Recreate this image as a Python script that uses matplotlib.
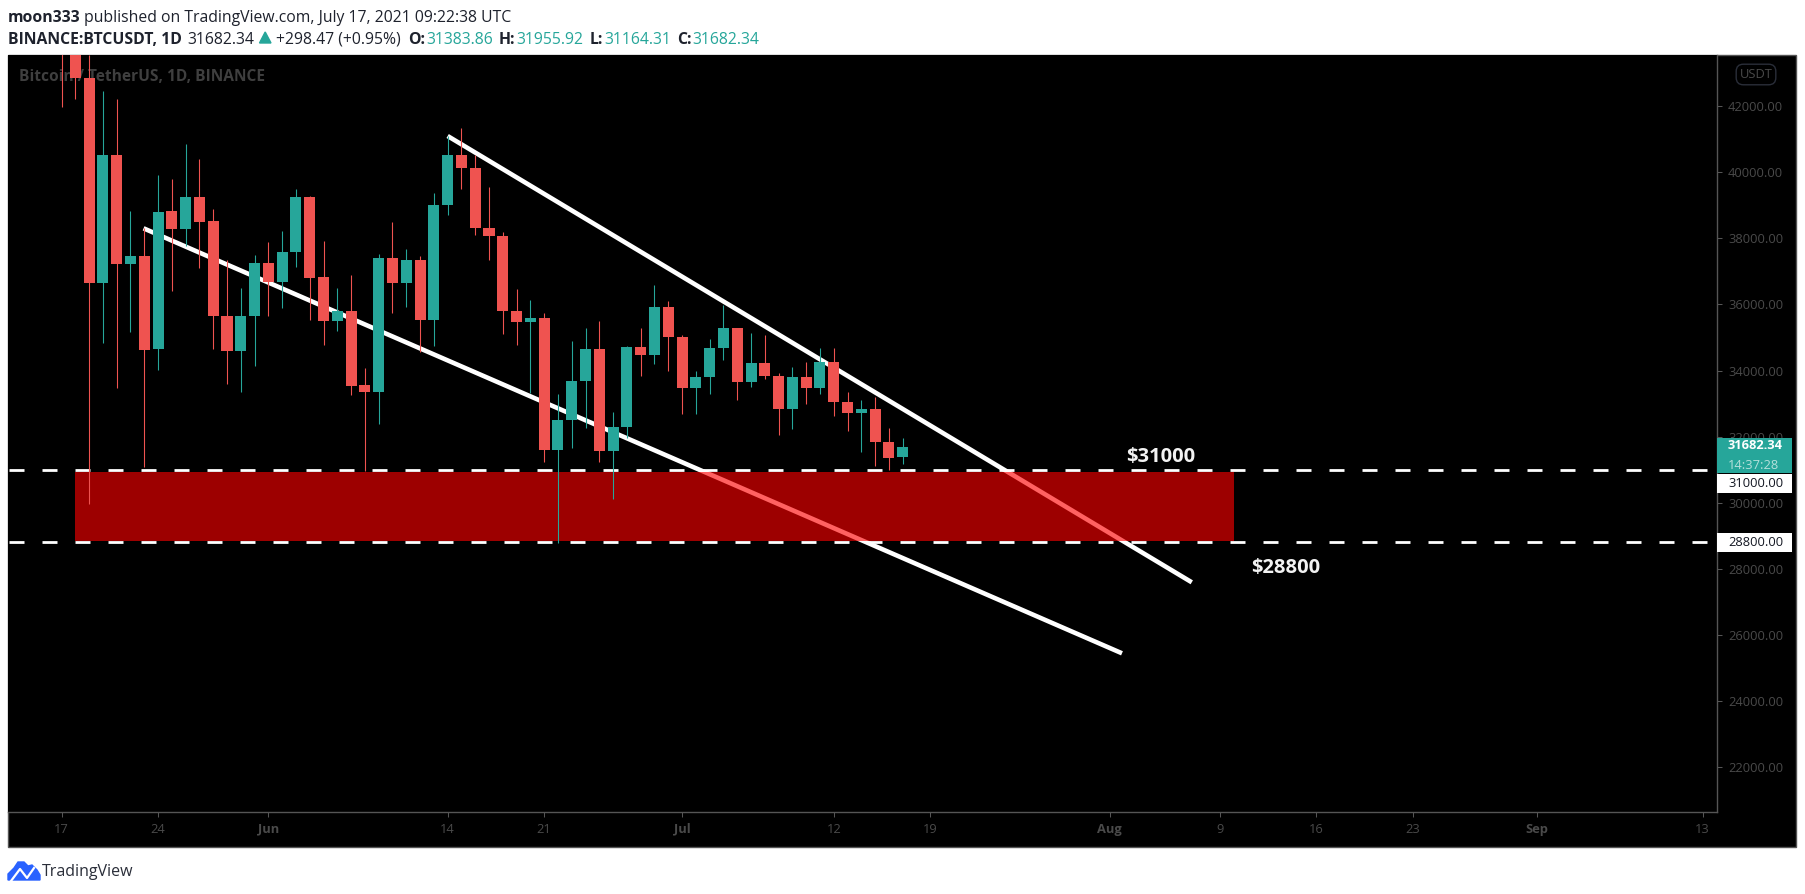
#!/usr/bin/env python3
"""
BTCUSDT daily candles (TradingView snapshot), falling wedge and support zone
"""

import matplotlib
matplotlib.use('Agg')
import matplotlib.pyplot as plt
import numpy as np
from matplotlib.patches import Rectangle, FancyBboxPatch, Polygon
from matplotlib.lines import Line2D

# day number counted from May 17
opens = [46400, 43600, 42849, 36656, 40518, 37222, 37464, 34660, 38824, 38280, 39248, 38522,
         35658, 34600, 35649, 37252, 36677, 37585, 39248, 36829, 35507, 35800, 33563, 33360,
         37403, 36656, 37343, 35537, 39006, 40518, 40125, 38310, 38068, 35800, 35468, 35589,
         31597, 32504, 33684, 34651, 31567, 32293, 34712, 34470, 35921, 35014, 33472, 33805,
         34681, 35286, 33653, 34228, 33835, 32837, 33805, 33472, 34258, 33049, 32716, 32837,
         31839, 31383.86]
highs = [46700, 45800, 43550, 42453, 42211, 38824, 38310, 39913, 39792, 40850, 40397, 38885,
         37343, 36496, 37494, 37887, 38220, 39490, 39278, 37917, 36496, 36889, 34077, 37524,
         38492, 37675, 37464, 39369, 41092, 41334, 40518, 39550, 38189, 36466, 36133, 35740,
         33290, 34893, 35286, 35498, 32746, 34742, 35286, 36587, 36103, 35075, 33986, 34954,
         35982, 35290, 35135, 35075, 33925, 34107, 34258, 34681, 34681, 33351, 33109, 33200,
         32262, 31955.92]
lows = [41980, 42211, 29974, 34842, 33481, 35174, 31092, 34016, 36405, 37766, 37101, 34651,
        33602, 33360, 34146, 35658, 35900, 37131, 35537, 34781, 35205, 33269, 30962, 32392,
        35749, 35930, 34570, 34751, 38703, 39490, 38099, 37343, 35105, 34772, 33321, 31234,
        28785, 31657, 32262, 31234, 30115, 31960, 33835, 34198, 33986, 32686, 32686, 33290,
        34319, 33109, 33502, 33744, 32051, 32232, 32988, 33290, 32625, 32172, 31537, 31113,
        30992, 31164.31]
closes = [43600, 42849, 36656, 40518, 37222, 37464, 34630, 38794, 38280, 39248, 38492, 35658,
          34600, 35649, 37252, 36677, 37585, 39248, 36798, 35507, 35800, 33541, 33360, 37403,
          36656, 37343, 35537, 39006, 40518, 40125, 38310, 38068, 35800, 35468, 35589, 31597,
          32504, 33684, 34651, 31567, 32293, 34712, 34470, 35921, 35014, 33472, 33805, 34681,
          35286, 33653, 34228, 33835, 32837, 33805, 33472, 34258, 33049, 32716, 32837, 31839,
          31355, 31682.34]

price_ticks = [42000, 40000, 38000, 36000, 34000, 32000, 30000, 28000, 26000, 24000, 22000]
date_ticks = [0, 7, 15, 28, 35, 45, 56, 63, 76, 84, 91, 98, 107, 119]
date_labels = ['17', '24', 'Jun', '14', '21', 'Jul', '12', '19', 'Aug', '9', '16', '23', 'Sep', '13']
month_labels = ['Jun', 'Jul', 'Aug', 'Sep']

upper_trend_x = [28.0, 81.96]
upper_trend_y = [41092, 27596]
lower_trend_x = [5.95, 76.9]
lower_trend_y = [38301, 25449]

level_prices = [31000, 28800]
level_names = ['$31000', '$28800']
level_name_x = [79.7, 88.8]
level_name_y = [31380, 28020]
zone_x = [0.98, 85.0]
zone_y = [28845, 30940]

UP = '#26a69a'
DOWN = '#ef5350'
W, H = 1805, 894
FONT = 'Open Sans'


def fx(px):
    return px / W


def fy(py):
    return 1 - py / H


def header(fig):
    dark = '#1e222d'
    fig.text(fx(8), fy(22), 'moon333', fontsize=11.3, fontweight='bold', color=dark, family=FONT)
    fig.text(fx(84), fy(22), 'published on TradingView.com, July 17, 2021 09:22:38 UTC',
             fontsize=11.3, color=dark, family=FONT)
    fig.text(fx(8), fy(44), 'BINANCE:BTCUSDT, 1D', fontsize=11.3, fontweight='bold', color=dark, family=FONT)
    fig.text(fx(187.5), fy(44), '31682.34', fontsize=11.3, color=dark, family=FONT)
    fig.add_artist(Polygon([[fx(259.5), fy(43)], [fx(271), fy(43)], [fx(265.2), fy(32)]],
                           closed=True, color=UP, transform=fig.transFigure))
    fig.text(fx(276), fy(44), '+298.47 (+0.95%)', fontsize=11.3, color=dark, family=FONT)
    items = [('O:', 408, '31383.86', 426.7), ('H:', 499, '31955.92', 516.7),
             ('L:', 590, '31164.31', 604), ('C:', 676.7, '31682.34', 692.7)]
    for name, x1, val, x2 in items:
        fig.text(fx(x1), fy(44), name, fontsize=11.3, fontweight='bold', color=dark, family=FONT)
        fig.text(fx(x2), fy(44), val, fontsize=11.3, color=UP, family=FONT)


def footer(fig):
    blue = '#2962ff'
    cloud = [[8, 880], [8, 874], [14, 868], [18, 862], [24, 862], [28, 866], [32, 865],
             [37, 870], [40, 875], [40, 880]]
    fig.add_artist(Polygon([[fx(a), fy(b)] for a, b in cloud], closed=True, color=blue,
                           transform=fig.transFigure))
    zig = [[11, 881], [20, 869], [27, 878], [34, 868]]
    fig.add_artist(Line2D([fx(a) for a, b in zig], [fy(b) for a, b in zig], color='white', lw=1.6,
                          transform=fig.transFigure))
    fig.text(fx(42), fy(876), 'TradingView', fontsize=11.5, color='#2a2e39', family=FONT)


def price_tag(ax, center, lines, bg, half=280):
    trans = ax.get_yaxis_transform()
    tag_w = 75 / 1708.5
    ax.add_patch(Rectangle((1.0, center - half), tag_w, 2 * half, facecolor=bg, edgecolor='none',
                           transform=trans, clip_on=False, zorder=6))
    for price, text, color, weight in lines:
        ax.text(1 + 11.5 / 1708.5, price, text, color=color, fontweight=weight, fontsize=9.3, family=FONT,
                va='center', ha='left', transform=trans, clip_on=False, zorder=7)


def draw_chart():
    plt.rcParams['lines.scale_dashes'] = False
    fig = plt.figure(figsize=(W / 100, H / 100), dpi=100, facecolor='white')
    fig.add_artist(Rectangle((fx(7.5), fy(847)), fx(1788.5), 792 / H, facecolor='black', edgecolor='#555555',
                             lw=1.0, transform=fig.transFigure, zorder=-1))

    ax = fig.add_axes([fx(8), fy(812), 1708.5 / W, 757 / H], facecolor='black')
    ax.set_xlim(-3.88, 120.01)
    ax.set_ylim(20650, 43542)

    days = np.arange(len(opens))
    o = np.array(opens)
    c = np.array(closes)
    colors = np.where(c >= o, UP, DOWN)

    ax.text(11 / 1708.5, 1 - 21.7 / 757, 'Bitcoin / TetherUS, 1D, BINANCE', color='#3f3f3f', fontsize=11.2,
            fontweight='bold', family=FONT, va='center', transform=ax.transAxes, zorder=1)

    ax.plot(upper_trend_x, upper_trend_y, color='white', lw=3.3, solid_capstyle='butt', zorder=2)
    ax.plot(lower_trend_x, lower_trend_y, color='white', lw=3.3, solid_capstyle='butt', zorder=2)

    for level in level_prices:
        ax.plot([-3.807, 120.01], [level, level], color='white', lw=2.0, dashes=(10.8, 12.96),
                dash_capstyle='butt', zorder=2.2)

    ax.add_patch(Rectangle((zone_x[0], zone_y[0]), zone_x[1] - zone_x[0], zone_y[1] - zone_y[0],
                           facecolor='#ff0000', alpha=0.62, edgecolor='none', zorder=2.5))

    ax.vlines(days, lows, highs, colors=colors, lw=0.78, zorder=3)
    ax.bar(days, np.abs(c - o), bottom=np.minimum(o, c), width=0.8, color=colors, zorder=3.1)

    for name, x, y in zip(level_names, level_name_x, level_name_y):
        ax.text(x, y, name, color='#f2f2f2', fontsize=14.5, fontweight='bold', family=FONT,
                ha='center', va='center', zorder=4)

    for side in ['top', 'left']:
        ax.spines[side].set_visible(False)
    for side in ['right', 'bottom']:
        ax.spines[side].set_color('#555555')
        ax.spines[side].set_linewidth(1.0)

    ax.yaxis.tick_right()
    ax.set_yticks(price_ticks)
    ax.set_yticklabels([f'{p:.2f}' for p in price_ticks], family=FONT)
    ax.set_xticks(date_ticks)
    ax.set_xticklabels(date_labels, family=FONT)
    ax.tick_params(axis='both', colors='#555555', labelcolor='#4a4a4a', length=3.6, width=0.75, labelsize=9.3)
    ax.tick_params(axis='y', pad=4.7)
    ax.tick_params(axis='x', pad=4.0)
    for lab in ax.get_xticklabels():
        if lab.get_text() in month_labels:
            lab.set_fontweight('bold')

    price_tag(ax, 31430, [(31730, '31682.34', 'white', 'bold'), (31130, '14:37:28', '#b5e0db', 'normal')],
              UP, half=530)
    price_tag(ax, 30584, [(30584, '31000.00', '#131722', 'normal')], 'white')
    price_tag(ax, 28800, [(28800, '28800.00', '#131722', 'normal')], 'white')

    fig.add_artist(FancyBboxPatch((fx(1738), fy(83)), fx(36), 17 / H, boxstyle='round,pad=0.001,rounding_size=0.004',
                                  facecolor='black', edgecolor='#2a2e39', lw=1, transform=fig.transFigure,
                                  mutation_aspect=2.0))
    fig.text(fx(1756), fy(74.5), 'USDT', color='#4a4a4a', fontsize=9.3, family=FONT, ha='center', va='center')

    header(fig)
    footer(fig)
    fig.savefig('out.png', dpi=100, facecolor='white')


if __name__ == "__main__":
    draw_chart()
